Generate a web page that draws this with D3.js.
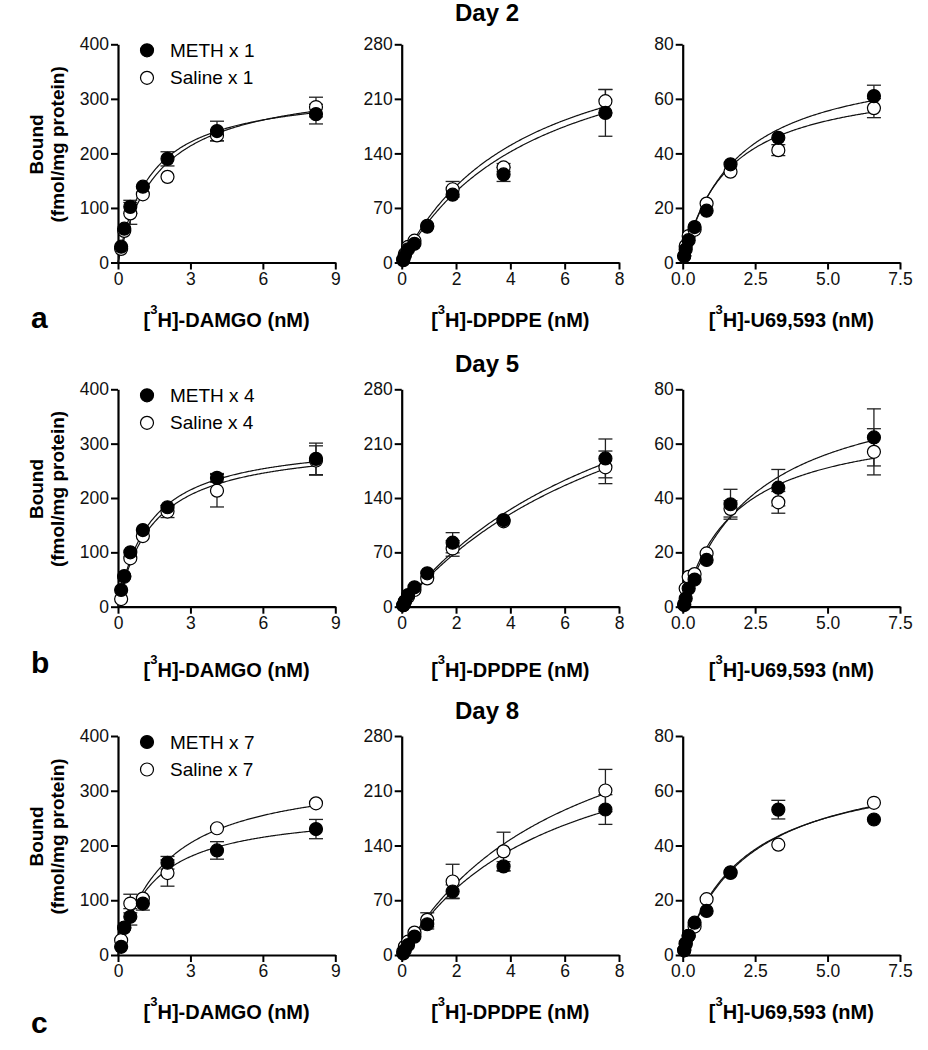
<!DOCTYPE html>
<html>
<head>
<meta charset="utf-8">
<script src="https://cdn.jsdelivr.net/npm/d3@7"></script>
<style>
  html, body { margin: 0; padding: 0; background: #fff; }
  svg { display: block; font-family: "Liberation Sans", Arial, sans-serif; }
</style>
</head>
<body>
<svg id="chart" width="928" height="1050"></svg>
<script>
// ---------- data ----------
const days = ["Day 2", "Day 5", "Day 8"];
const panelLetters = ["a", "b", "c"];
const methLabels = ["METH x 1", "METH x 4", "METH x 7"];
const salineLabels = ["Saline x 1", "Saline x 4", "Saline x 7"];
const ligands = ["DAMGO", "DPDPE", "U69,593"];
const xMax = [9, 8, 7.5];
const yMax = [400, 280, 80];
const xTicks = [[0, 3, 6, 9], [0, 2, 4, 6, 8], [0, 2.5, 5, 7.5]];
const yTicks = [[0, 100, 200, 300, 400], [0, 70, 140, 210, 280], [0, 20, 40, 60, 80]];
const xTickFormat = ["d", "d", ".1f"];

const concDAMGO = [0.13, 0.26, 0.51, 1.03, 2.05, 4.1, 8.2];
const concDPDPE = [0.058, 0.117, 0.234, 0.47, 0.94, 1.875, 3.75, 7.5];
const concU69 = [0.052, 0.103, 0.206, 0.41, 0.825, 1.65, 3.3, 6.6];

// rows: Day 2, Day 5, Day 8
const methDAMGO = [[29, 62, 102, 139, 190, 241, 272], [30.7, 56.4, 100, 141, 183, 237, 272], [15, 49.7, 69.7, 94, 168.5, 191, 230]];
const methDAMGOErr = [[0, 0, 12, 0, 13, 18, 18], [0, 0, 0, 0, 0, 8, 29], [0, 0, 15, 12, 11.5, 16, 17.6]];
const salDAMGO = [[25, 58, 90, 125, 157, 233, 285], [14, 55, 89, 130, 175, 213.5, 269], [27, 50, 94, 103, 149.7, 231.5, 277]];
const salDAMGOErr = [[0, 0, 20, 0, 0, 10, 18], [0, 0, 0, 0, 11, 30, 27], [0, 0, 17, 0, 24, 0, 0]];

const methDPDPE = [[3, 9, 17, 24, 46, 87, 113, 192], [2, 6.4, 15, 25, 43, 82.4, 111.6, 191], [2, 6.4, 12.8, 23.5, 39.3, 81.2, 113.3, 186]];
const methDPDPEErr = [[0, 0, 0, 0, 0, 0, 9, 30], [0, 0, 0, 0, 0, 13, 0, 25], [0, 0, 0, 0, 6, 8.5, 6, 19]];
const salDPDPE = [[4, 11, 20, 28, 47, 94, 122, 207], [2, 7, 13, 21.5, 36.5, 75, 110, 179.5], [4.3, 10.7, 17, 28.6, 45, 94, 132.5, 210.3]];
const salDPDPEErr = [[0, 0, 0, 0, 0, 10, 5, 15], [0, 0, 0, 0, 0, 10, 0, 21], [0, 0, 0, 0, 9, 22, 24.5, 27]];

const methU69 = [[2.4, 4.8, 8.2, 13, 19, 36, 45.7, 61], [0.6, 3, 6.7, 10, 17.2, 37.7, 43.8, 62.3], [1.7, 4.3, 7, 11.8, 16.1, 30.2, 53.1, 49.5]];
const methU69Err = [[0, 0, 0, 0, 0, 0, 0, 4], [0, 0, 0, 0, 0, 5.5, 6.7, 10.5], [0, 0, 0, 0, 0, 0, 3.4, 0]];
const salU69 = [[2.4, 6, 9.7, 12, 21.6, 33.3, 41.2, 56.6], [1, 6.7, 11, 12, 19.6, 36, 38.4, 57], [1.7, 4, 7, 10.4, 20.4, 30, 40.3, 55.6]];
const salU69Err = [[0, 0, 0, 0, 0, 0, 2, 3.5], [0, 0, 0, 0, 0, 3, 4, 8.5], [0, 0, 0, 0, 0, 0, 0, 0]];

// one-site binding fit parameters [row][ligand]
const methBmax = [[320, 321.5, 76], [310, 407, 85.5], [267.7, 318.6, 71.8]];
const methKd = [[1.35, 5.06, 1.84], [1.33, 9, 2.61], [1.47, 5.5, 2.15]];
const salBmax = [[336, 321.6, 68.2], [305, 403, 69.7], [338, 380, 73.4]];
const salKd = [[1.72, 4.56, 1.557], [1.45, 9.5, 1.82], [1.96, 6.3, 2.3]];

// ---------- layout ----------
const conc = [concDAMGO, concDPDPE, concU69];
const methVals = [methDAMGO, methDPDPE, methU69];
const methErrs = [methDAMGOErr, methDPDPEErr, methU69Err];
const salVals = [salDAMGO, salDPDPE, salU69];
const salErrs = [salDAMGOErr, salDPDPEErr, salU69Err];

const colX0 = [118, 401.7, 682.7];
const plotW = 217.3;
const rowTop = [44.3, 389.3, 736];
const rowBottom = [262.5, 606.7, 955];
const xLabelBaseline = [327, 677, 1019];
const dayBaseline = [21, 372, 719];
const letterBaseline = [328, 673, 1033];
const R = 6.5;

const svg = d3.select("#chart");

for (let r = 0; r < 3; r++) {
  // Day title
  svg.append("text").attr("x", 487).attr("y", dayBaseline[r])
    .attr("text-anchor", "middle").attr("font-size", 24).attr("font-weight", "bold")
    .text(days[r]);
  // panel letter
  svg.append("text").attr("x", 31).attr("y", letterBaseline[r])
    .attr("font-size", 30).attr("font-weight", "bold").text(panelLetters[r]);

  for (let c = 0; c < 3; c++) {
    const x = d3.scaleLinear().domain([0, xMax[c]]).range([colX0[c], colX0[c] + plotW]);
    const y = d3.scaleLinear().domain([0, yMax[c]]).range([rowBottom[r], rowTop[r]]);
    const g = svg.append("g");

    // axes
    const xa = g.append("g").attr("transform", `translate(0,${rowBottom[r]})`)
      .call(d3.axisBottom(x).tickValues(xTicks[c]).tickFormat(d3.format(xTickFormat[c]))
        .tickSize(7).tickSizeOuter(0).tickPadding(3));
    const ya = g.append("g").attr("transform", `translate(${colX0[c]},0)`)
      .call(d3.axisLeft(y).tickValues(yTicks[c]).tickSize(7).tickSizeOuter(0).tickPadding(2));
    [xa, ya].forEach(a => {
      a.selectAll("path.domain").attr("stroke", "#000").attr("stroke-width", 2.2);
      a.selectAll(".tick line").attr("stroke", "#000").attr("stroke-width", 2);
      a.selectAll(".tick text").attr("font-size", 17.5).attr("fill", "#111")
        .attr("font-family", "'Liberation Sans', Arial, sans-serif");
    });

    // x label with superscript
    const xl = g.append("text").attr("x", colX0[c] + plotW / 2).attr("y", xLabelBaseline[r])
      .attr("text-anchor", "middle").attr("font-size", 20).attr("font-weight", "bold");
    xl.append("tspan").text("[");
    xl.append("tspan").attr("font-size", 13).attr("dy", -13).text("3");
    xl.append("tspan").attr("dy", 13).text(`H]-${ligands[c]} (nM)`);

    // fitted curves
    const xs = conc[c];
    const xEnd = xs[xs.length - 1];
    const sample = d3.range(0, 201).map(i => xEnd * i / 200);
    const line = d3.line().x(d => x(d[0])).y(d => y(d[1]));
    [[salBmax[r][c], salKd[r][c]], [methBmax[r][c], methKd[r][c]]].forEach(([bm, kd]) => {
      g.append("path")
        .attr("d", line(sample.map(v => [v, bm * v / (kd + v)])))
        .attr("fill", "none").attr("stroke", "#111").attr("stroke-width", 1.2);
    });

    // error bars
    const series = [
      { vals: salVals[c][r], errs: salErrs[c][r], fill: "#fff" },
      { vals: methVals[c][r], errs: methErrs[c][r], fill: "#000" }
    ];
    series.forEach(s => {
      s.vals.forEach((v, i) => {
        const e = s.errs[i];
        if (!e) return;
        const cx = x(xs[i]);
        const eg = g.append("g").attr("stroke", "#222").attr("stroke-width", 1.3);
        eg.append("line").attr("x1", cx).attr("x2", cx).attr("y1", y(v - e)).attr("y2", y(v + e));
        eg.append("line").attr("x1", cx - 7).attr("x2", cx + 7).attr("y1", y(v + e)).attr("y2", y(v + e));
        eg.append("line").attr("x1", cx - 7).attr("x2", cx + 7).attr("y1", y(v - e)).attr("y2", y(v - e));
      });
    });
    // markers: saline first, METH on top
    series.forEach(s => {
      g.selectAll(null).data(s.vals).enter().append("circle")
        .attr("cx", (d, i) => x(xs[i])).attr("cy", d => y(d)).attr("r", R)
        .attr("fill", s.fill).attr("stroke", "#000").attr("stroke-width", 1.2);
    });

    // y title + legend in first column
    if (c === 0) {
      const midY = (rowTop[r] + rowBottom[r]) / 2 - 9;
      svg.append("text").attr("transform", `translate(43,${midY}) rotate(-90)`)
        .attr("text-anchor", "middle").attr("font-size", 19).attr("font-weight", "bold").text("Bound");
      svg.append("text").attr("transform", `translate(64,${midY}) rotate(-90)`)
        .attr("text-anchor", "middle").attr("font-size", 19).attr("font-weight", "bold").text("(fmol/mg protein)");

      const legend = [[methLabels[r], "#000", 6], [salineLabels[r], "#fff", 33.5]];
      legend.forEach(([lab, fill, off]) => {
        const cy = rowTop[r] + off;
        svg.append("circle").attr("cx", 147).attr("cy", cy).attr("r", R)
          .attr("fill", fill).attr("stroke", "#000").attr("stroke-width", 1.2);
        svg.append("text").attr("x", 170).attr("y", cy + 6.5).attr("font-size", 19).text(lab);
      });
    }
  }
}
</script>
</body>
</html>
